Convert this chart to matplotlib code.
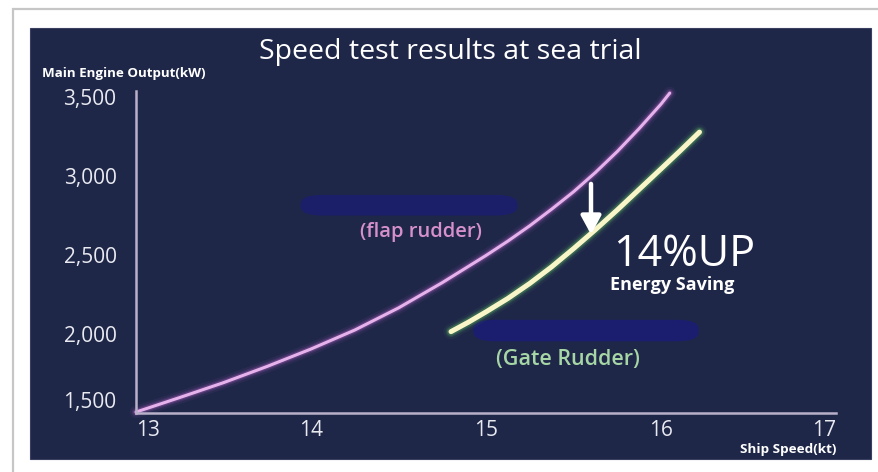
import numpy as np
import matplotlib.pyplot as plt
from matplotlib.patches import Rectangle, FancyBboxPatch

# sea trial readings: ship speed (kt) vs main engine output (kW)
flap_speed = [13.00, 13.25, 13.50, 13.75, 14.00, 14.25, 14.50, 14.75,
              15.00, 15.125, 15.25, 15.375, 15.50, 15.625, 15.75, 15.875,
              16.00, 16.05]
flap_power = [1506, 1598, 1692, 1795, 1905, 2025, 2165, 2325,
              2497, 2588, 2685, 2790, 2900, 3022, 3155, 3300,
              3455, 3525]

gate_speed = [14.80, 14.90, 15.00, 15.125, 15.25, 15.375, 15.50, 15.625,
              15.75, 15.875, 16.00, 16.11, 16.22]
gate_power = [2015, 2075, 2140, 2225, 2320, 2425, 2540, 2660,
              2785, 2915, 3045, 3160, 3278]

arrow_speed = 15.6
arrow_from = 2950   # just under the flap rudder curve
arrow_to = 2630     # gate rudder curve at arrow_speed

x_ticks = [13, 14, 15, 16, 17]
y_ticks = [1500, 2000, 2500, 3000, 3500]
y_ticklabels = ["1,500", "2,000", "2,500", "3,000", "3,500"]

navy = "#1f2749"
axis_col = "#b9b1c9"
txt_col = "#e9e9f0"

plt.rcParams["font.family"] = ["Open Sans", "DejaVu Sans"]

fig = plt.figure(figsize=(8.79, 4.72), dpi=100)
fig.patch.set_facecolor("white")

# screenshot frame + dark panel
fig.patches.append(Rectangle((0.0148, -0.1), 1.1, 1.081, transform=fig.transFigure,
                             facecolor="white", edgecolor="#c6c6c6", lw=1.6, zorder=-3))
fig.patches.append(Rectangle((30 / 879, 1 - 459 / 472), 841 / 879, 431 / 472,
                             transform=fig.transFigure, facecolor=navy,
                             edgecolor="#3a4060", lw=0.8, zorder=-2))

ax = fig.add_axes([136 / 879, 1 - 413 / 472, 700 / 879, 316 / 472])
ax.set_facecolor("none")
ax.set_xlim(13, 17)
ax.set_ylim(1500, 3500)

for s in ["top", "right"]:
    ax.spines[s].set_visible(False)
for s in ["left", "bottom"]:
    ax.spines[s].set_color(axis_col)
    ax.spines[s].set_linewidth(1.8)
ax.spines["left"].set_bounds(1500, 3540)

ax.set_xticks(x_ticks)
ax.set_xticklabels([str(t) for t in x_ticks])
ax.set_yticks(y_ticks)
ax.set_yticklabels(y_ticklabels)
ax.tick_params(length=0, colors=txt_col, labelsize=15)
ax.tick_params(axis="x", pad=5)
ax.tick_params(axis="y", pad=14)
xl = ax.get_xticklabels()
xl[0].set_ha("left")
xl[-1].set_ha("right")
ax.get_yticklabels()[0].set_va("bottom")

# glowing curves
for w, a in [(9, 0.08), (6, 0.15), (4, 0.3)]:
    ax.plot(flap_speed, flap_power, color="#b060c0", lw=w, alpha=a,
            solid_capstyle="round", solid_joinstyle="round", clip_on=False)
ax.plot(flap_speed, flap_power, color="#e6b2ec", lw=2.2,
        solid_capstyle="round", solid_joinstyle="round", clip_on=False)

for w, a in [(11, 0.08), (8, 0.18), (6, 0.38)]:
    ax.plot(gate_speed, gate_power, color="#4f9a5a", lw=w, alpha=a,
            solid_capstyle="round", solid_joinstyle="round", clip_on=False)
ax.plot(gate_speed, gate_power, color="#f8f6c8", lw=3.6,
        solid_capstyle="round", solid_joinstyle="round", clip_on=False)

ax.annotate("", xy=(arrow_speed, arrow_to), xytext=(arrow_speed, arrow_from),
            arrowprops=dict(arrowstyle="-|>,head_width=0.6,head_length=1.1",
                            color="white", lw=3.2, shrinkA=0, shrinkB=0))

# label smudges
ax.add_patch(FancyBboxPatch((0.235, 0.625), 0.31, 0.065, boxstyle="round,pad=0,rounding_size=0.03",
                            transform=ax.transAxes, facecolor="#1b1f6a", edgecolor="none"))
ax.add_patch(FancyBboxPatch((0.482, 0.227), 0.322, 0.068, boxstyle="round,pad=0,rounding_size=0.03",
                            transform=ax.transAxes, facecolor="#1b1e6e", edgecolor="none"))

ax.text(0.407, 0.573, "(flap rudder)", transform=ax.transAxes, ha="center", va="center",
        color="#d690cc", fontsize=14.5, fontweight="semibold")
ax.text(0.617, 0.168, "(Gate Rudder)", transform=ax.transAxes, ha="center", va="center",
        color="#a6d6a6", fontsize=15.5, fontweight="semibold")
ax.text(0.681, 0.465, "14%UP", transform=ax.transAxes, ha="left", va="baseline",
        color="white", fontsize=31, fontweight="medium")
ax.text(0.677, 0.405, "Energy Saving", transform=ax.transAxes, ha="left", va="center",
        color="white", fontsize=13, fontweight="bold")

fig.text(0.512, 0.89, "Speed test results at sea trial", ha="center", va="center",
         color="white", fontsize=20.5)
fig.text(42 / 879, 1 - 73 / 472, "Main Engine Output(kW)", ha="left", va="center",
         color="white", fontsize=9.6, fontweight="bold")
fig.text(836 / 879, 1 - 450 / 472, "Ship Speed(kt)", ha="right", va="center",
         color="white", fontsize=9.7, fontweight="bold")

fig.savefig("out.png", dpi=100)
